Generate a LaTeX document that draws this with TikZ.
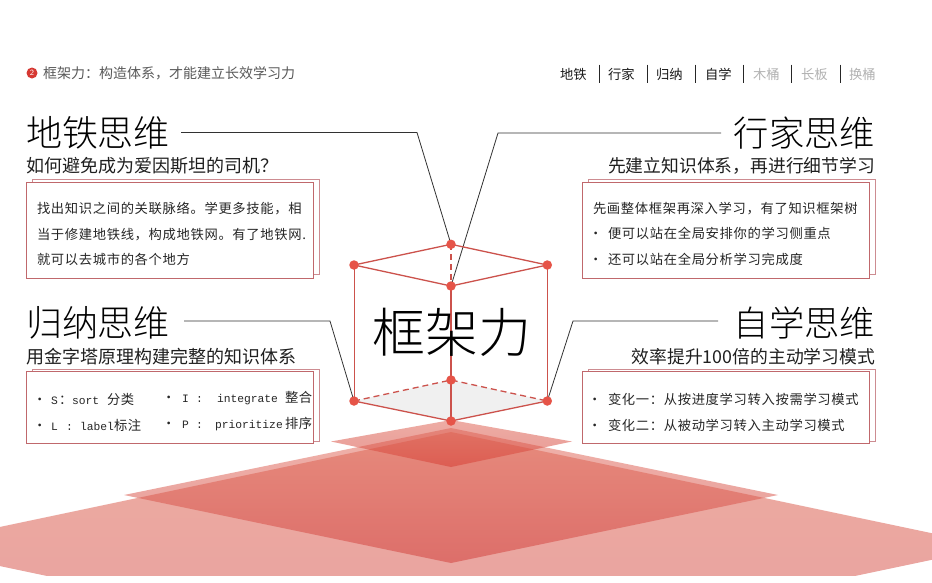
\documentclass[tikz,border=0pt]{standalone}
\usepackage{fontspec}
\newfontfamily\cjk{Noto Sans CJK SC}
\newfontfamily\cjkl{Noto Sans CJK SC Light}
\newfontfamily\cjkbox[LetterSpace=5]{Noto Sans CJK SC}
\newfontfamily\monof{Liberation Mono}
\usetikzlibrary{positioning}
\definecolor{cubered}{RGB}{204,82,76}
\definecolor{dotred}{RGB}{230,84,72}
\definecolor{boxred}{RGB}{192,104,108}
\definecolor{boxback}{RGB}{205,140,145}
\definecolor{greytxt}{RGB}{178,178,178}
\definecolor{leader}{RGB}{50,50,50}
\definecolor{badgered}{RGB}{214,56,50}
\definecolor{largeT}{RGB}{237,172,160}
\definecolor{largeB}{RGB}{232,160,160}
\definecolor{medT}{RGB}{226,112,96}
\definecolor{medB}{RGB}{210,62,58}
\definecolor{smT}{RGB}{222,100,85}
\definecolor{smB}{RGB}{214,60,50}
\tikzset{
  x=1pt,y=-1pt,
  txt/.style={inner sep=0pt,outer sep=0pt,anchor=base west},
  txtr/.style={inner sep=0pt,outer sep=0pt,anchor=base east},
  titlew/.style={txt,font=\cjkl\fontsize{36}{36}\selectfont,text=black},
  titlee/.style={txtr,font=\cjkl\fontsize{35.3}{36}\selectfont,text=black},
  subw/.style={txt,font=\cjk\fontsize{18}{18}\selectfont,text=black!88},
  sube/.style={txtr,font=\cjk\fontsize{17.8}{18}\selectfont,text=black!88},
  body/.style={txt,font=\cjkbox\fontsize{13.3}{14}\selectfont,text=black!85},
  code/.style={txt,font=\monof\fontsize{11.3}{12}\selectfont,text=black!85},
  navon/.style={txt,font=\cjk\fontsize{13.3}{14}\selectfont,text=black!90},
  navoff/.style={txt,font=\cjk\fontsize{13.3}{14}\selectfont,text=greytxt},
  sep/.style={draw=black!85,line width=0.7pt},
  frontbox/.style={draw=boxred,line width=0.9pt,fill=white},
  backbox/.style={draw=boxback,line width=0.9pt,fill=white},
  edge/.style={draw=cubered,line width=1.3pt},
  hidden/.style={edge,dash pattern=on 6pt off 4pt},
  lead/.style={draw=leader,line width=0.8pt,line join=miter},
  vdot/.style={circle,fill=dotred,inner sep=0pt,minimum size=9.5pt},
}
\begin{document}
\begin{tikzpicture}
\useasboundingbox (0,0) rectangle (932,582);
\fill[white] (0,0) rectangle (932,582);

% pyramid of layers
\begin{scope}
\clip (0,0) rectangle (932,575.5);
\shade[top color=largeT,bottom color=largeB] (-93,546.5) -- (451,432) -- (995,546.5) -- (451,661) -- cycle;
\end{scope}
\shade[top color=medT,bottom color=medB,opacity=.53] (124,495) -- (451,428) -- (778,495) -- (451,563) -- cycle;
\shade[top color=smT,bottom color=smB,opacity=.53] (331,441.5) -- (451,420) -- (572,441.5) -- (451,467) -- cycle;

% cube
\coordinate (tb) at (451,244.3);
\coordinate (tl) at (354,265);
\coordinate (tr) at (547.3,265);
\coordinate (tf) at (451,286);
\coordinate (bl) at (354,401);
\coordinate (br) at (547.3,401);
\coordinate (bb) at (451,380);
\coordinate (bf) at (451,421);
\fill[black!6] (bl) -- (bb) -- (br) -- (bf) -- cycle;

% connectors from the headings
\coordinate (l1s) at (181,132.5); \coordinate (l1c) at (417,132.5);
\coordinate (l2s) at (721,133);   \coordinate (l2c) at (498,133);
\coordinate (l3s) at (184,321);   \coordinate (l3c) at (330,321);
\coordinate (l4s) at (718,321);   \coordinate (l4c) at (573,321);
\draw[lead] (l1s) -- (l1c) -- (tb);
\draw[lead] (l2s) -- (l2c) -- (tf);
\draw[lead] (l3s) -- (l3c) -- (bl);
\draw[lead] (l4s) -- (l4c) -- (br);

\draw[hidden] (tb) -- (tf);
\draw[hidden] (bl) -- (bb) -- (br);
\draw[edge] (tl) -- (tb) -- (tr) -- (tf) -- cycle;
\draw[edge,line width=1pt] (tl) -- (bl);
\draw[edge,line width=1pt] (tr) -- (br);
\draw[edge] (tf) -- (bf);
\draw[edge] (bl) -- (bf) -- (br);
\foreach \v in {tb,tl,tr,tf,bl,br,bb,bf}
  \node[vdot] (dot\v) at (\v) {};
\node[txt,font=\cjkl\fontsize{53}{53}\selectfont,text=black] (hub) at (372,352) {框架力};

% header
\node[circle,fill=badgered,inner sep=0pt,minimum size=11pt,text=white,font=\sffamily\fontsize{8}{8}\selectfont] (badge) at (32,73) {2};
\node[txt,font=\cjk\fontsize{14}{14}\selectfont,text=black!65] (head) at (43,78.5) {框架力：构造体系，才能建立长效学习力};
\node[navon] (n1) at (560,79) {地铁};
\node[navon] (n2) at (608,79) {行家};
\node[navon] (n3) at (656,79) {归纳};
\node[navon] (n4) at (705,79) {自学};
\node[navoff] (n5) at (753,79) {木桶};
\node[navoff] (n6) at (801,79) {长板};
\node[navoff] (n7) at (849,79) {换桶};
\foreach \x in {599,647,695.5,743.5,791.5,840}
  \draw[sep] (\x,64.5) -- (\x,82.5);

% headings
\node[titlew] (t1) at (26,146) {地铁思维};
\node[subw] (s1) at (26,172.5) {如何避免成为爱因斯坦的司机？};
\node[titlee] (t2) at (875,146) {行家思维};
\node[sube] (s2) at (875,172.5) {先建立知识体系，再进行细节学习};
\node[titlew] (t3) at (26,336) {归纳思维};
\node[subw] (s3) at (26,363) {用金字塔原理构建完整的知识体系};
\node[titlee] (t4) at (875,336) {自学思维};
\node[sube] (s4) at (875,363) {效率提升100倍的主动学习模式};

% boxes
\draw[backbox] (32,179) rectangle (319,274);
\draw[frontbox] (26.5,182) rectangle (313,278);
\draw[backbox] (588,179) rectangle (875.5,274);
\draw[frontbox] (582.7,182) rectangle (869.5,278);
\draw[backbox] (32,369) rectangle (319,441);
\draw[frontbox] (26.5,371.7) rectangle (313,443);
\draw[backbox] (588,369) rectangle (875.5,441);
\draw[frontbox] (582.7,371.7) rectangle (869.5,443);

% box 1
\node[body] (a1) at (37,213) {找出知识之间的关联脉络。学更多技能，相};
\node[body] (a2) at (37,239) {当于修建地铁线，构成地铁网。有了地铁网.};
\node[body] (a3) at (37,264) {就可以去城市的各个地方};
% box 2
\node[body] (b1) at (593,213.5) {先画整体框架再深入学习，有了知识框架树};
\node[body] (b2d) at (589,238) {•};
\node[body] (b2) at (608,238) {便可以站在全局安排你的学习侧重点};
\node[body] (b3d) at (589,264) {•};
\node[body] (b3) at (608,264) {还可以站在全局分析学习完成度};
% box 3
\node[body] (c1d) at (33,404) {•};
\node[code] (c1a) at (51,404) {S};
\node[body] (c1c) at (59,404) {：};
\node[code] (c1e) at (72,404) {sort};
\node[body] (c1b) at (107,404) {分类};
\node[body] (c2d) at (33,430) {•};
\node[code] (c2a) at (51,430) {L};
\node[code] (c2c) at (66,430) {:};
\node[code] (c2e) at (80,430) {label};
\node[body] (c2b) at (114,430) {标注};
\node[body] (c3d) at (162,402) {•};
\node[code] (c3a) at (182,402) {I};
\node[code] (c3c) at (196,402) {:};
\node[code] (c3e) at (217,402) {integrate};
\node[body] (c3b) at (285,402) {整合};
\node[body] (c4d) at (162,428) {•};
\node[code] (c4a) at (182,428) {P};
\node[code] (c4c) at (196,428) {:};
\node[code] (c4e) at (215,428) {prioritize};
\node[body] (c4b) at (285,428) {排序};
% box 4
\node[body] (d1d) at (588,404) {•};
\node[body] (d1) at (608,404) {变化一：从按进度学习转入按需学习模式};
\node[body] (d2d) at (588,430) {•};
\node[body] (d2) at (608,430) {变化二：从被动学习转入主动学习模式};
\end{tikzpicture}
\end{document}
